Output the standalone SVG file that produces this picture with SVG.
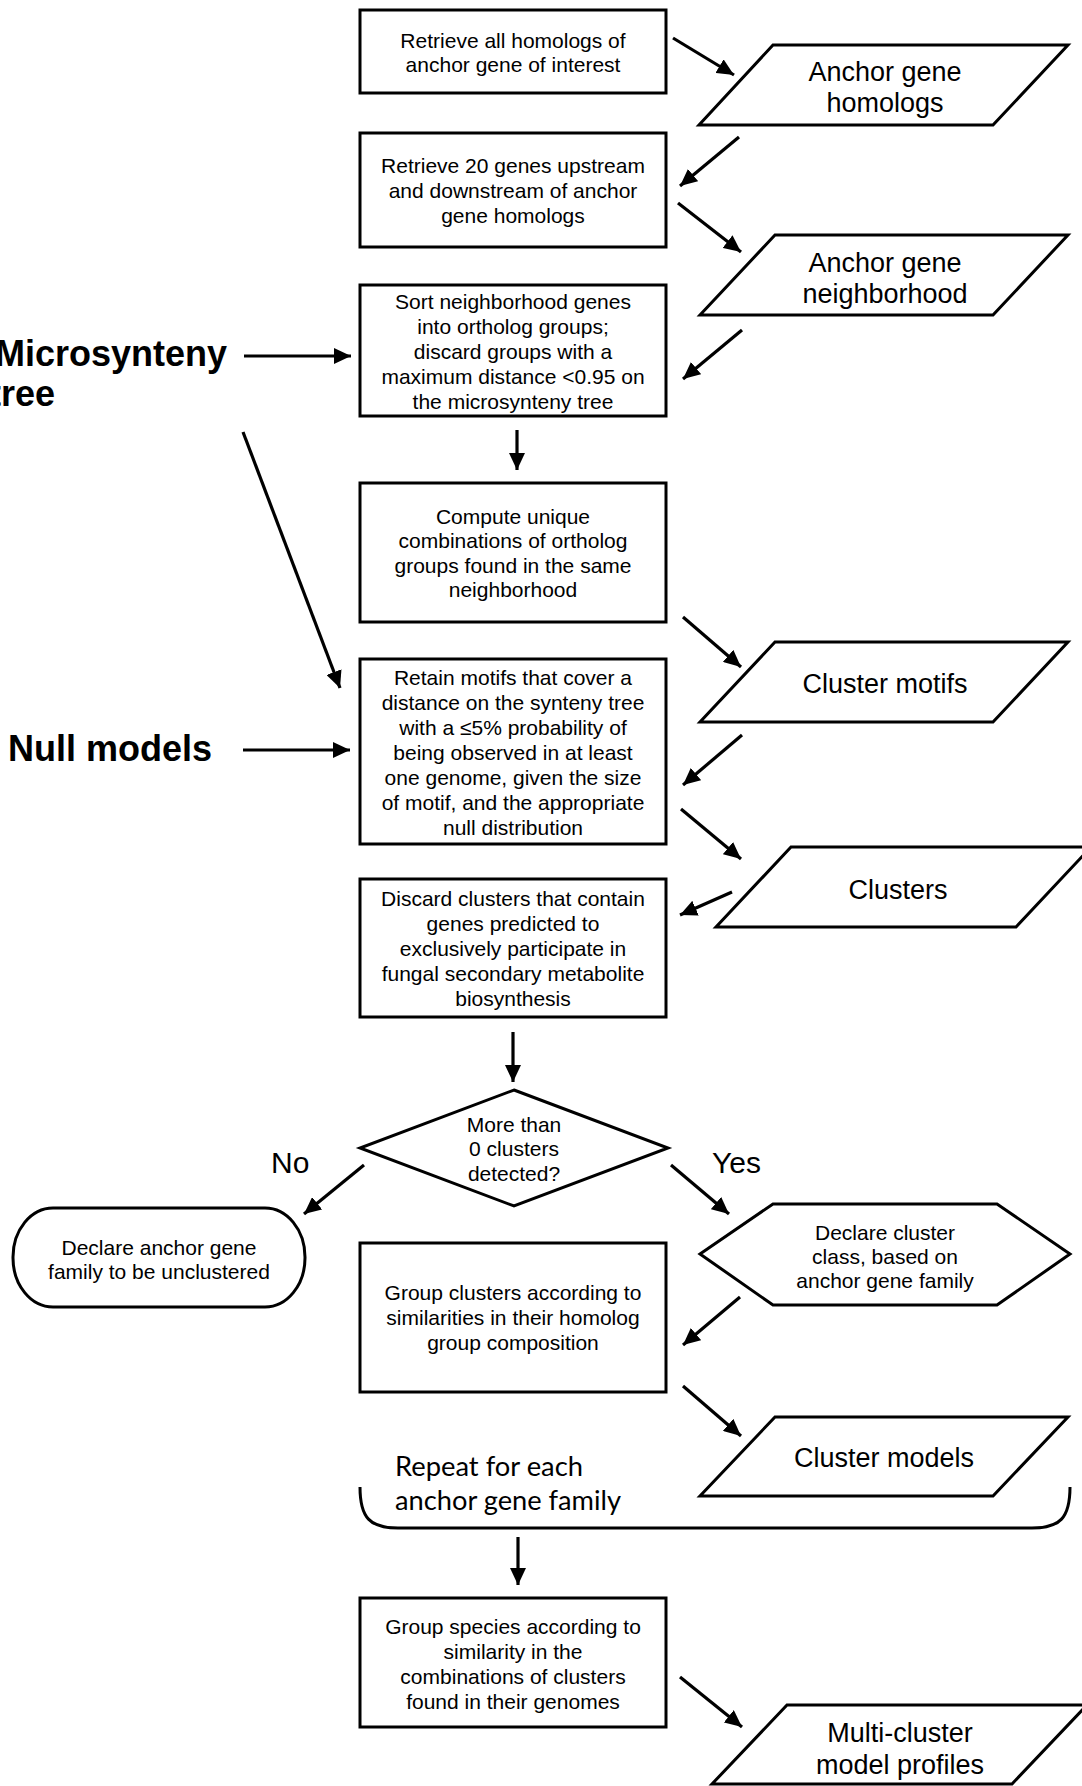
<svg xmlns="http://www.w3.org/2000/svg" width="1082" height="1786" viewBox="0 0 1082 1786">
<defs>
<style>
.shape{fill:#fff;stroke:#000;stroke-width:3;stroke-linejoin:miter}
.t{font-family:"Liberation Sans",Arial,sans-serif;font-size:21px;fill:#000;text-anchor:middle}
.tl{font-family:"Liberation Sans",Arial,sans-serif;font-size:27px;fill:#000;text-anchor:middle}
.tb{font-family:"Liberation Sans",Arial,sans-serif;font-size:36px;font-weight:bold;fill:#000}
.ty{font-family:"Liberation Sans",Arial,sans-serif;font-size:30px;fill:#000}
.tc{font-family:Lato,"Open Sans",sans-serif;font-size:27px;fill:#000}
.c line{stroke:#000;stroke-width:3.2;marker-end:url(#ah)}
</style>
<marker id="ah" markerUnits="userSpaceOnUse" markerWidth="17" markerHeight="16" refX="17" refY="8" orient="auto">
<path d="M0,0 L17,8 L0,16 z" fill="#000"/>
</marker>
</defs>
<rect width="1082" height="1786" fill="#fff"/>

<g id="b1"><rect class="shape" x="360" y="10" width="306" height="83"/>
<text class="t" x="513" y="48">Retrieve all homologs of</text>
<text class="t" x="513" y="72">anchor gene of interest</text></g>

<g id="p1"><polygon class="shape" points="773,45 1068,45 993,125 699,125"/>
<text class="tl" x="885" y="81">Anchor gene</text>
<text class="tl" x="885" y="112">homologs</text></g>

<g id="b2"><rect class="shape" x="360" y="133" width="306" height="114"/>
<text class="t" x="513" y="173">Retrieve 20 genes upstream</text>
<text class="t" x="513" y="198">and downstream of anchor</text>
<text class="t" x="513" y="223">gene homologs</text></g>

<g id="p2"><polygon class="shape" points="775,235 1068,235 993,315 700,315"/>
<text class="tl" x="885" y="272">Anchor gene</text>
<text class="tl" x="885" y="303">neighborhood</text></g>

<g id="b3"><rect class="shape" x="360" y="285" width="306" height="131"/>
<text class="t" x="513" y="309">Sort neighborhood genes</text>
<text class="t" x="513" y="334">into ortholog groups;</text>
<text class="t" x="513" y="359">discard groups with a</text>
<text class="t" x="513" y="384">maximum distance &lt;0.95 on</text>
<text class="t" x="513" y="409">the microsynteny tree</text></g>

<g id="microsynteny"><text class="tb" x="227" y="366" text-anchor="end">Microsynteny</text>
<text class="tb" x="-11" y="406">tree</text></g>

<g id="b4"><rect class="shape" x="360" y="483" width="306" height="139"/>
<text class="t" x="513" y="524">Compute unique</text>
<text class="t" x="513" y="548">combinations of ortholog</text>
<text class="t" x="513" y="573">groups found in the same</text>
<text class="t" x="513" y="597">neighborhood</text></g>

<g id="p3"><polygon class="shape" points="775,642 1068,642 993,722 700,722"/>
<text class="tl" x="885" y="693">Cluster motifs</text></g>

<g id="b5"><rect class="shape" x="360" y="659" width="306" height="185"/>
<text class="t" x="513" y="685">Retain motifs that cover a</text>
<text class="t" x="513" y="710">distance on the synteny tree</text>
<text class="t" x="513" y="735">with a ≤5% probability of</text>
<text class="t" x="513" y="760">being observed in at least</text>
<text class="t" x="513" y="785">one genome, given the size</text>
<text class="t" x="513" y="810">of motif, and the appropriate</text>
<text class="t" x="513" y="835">null distribution</text></g>

<g id="nullmodels"><text class="tb" x="8" y="761">Null models</text></g>

<g id="p4"><polygon class="shape" points="791,847 1091,847 1016,927 716,927"/>
<text class="tl" x="898" y="899">Clusters</text></g>

<g id="b6"><rect class="shape" x="360" y="879" width="306" height="138"/>
<text class="t" x="513" y="906">Discard clusters that contain</text>
<text class="t" x="513" y="931">genes predicted to</text>
<text class="t" x="513" y="956">exclusively participate in</text>
<text class="t" x="513" y="981">fungal secondary metabolite</text>
<text class="t" x="513" y="1006">biosynthesis</text></g>

<g id="d1"><polygon class="shape" points="514,1090 668,1148 514,1206 360,1148"/>
<text class="t" x="514" y="1132">More than</text>
<text class="t" x="514" y="1156">0 clusters</text>
<text class="t" x="514" y="1181">detected?</text></g>

<g id="lbl-no"><text class="ty" x="271" y="1173">No</text></g>
<g id="lbl-yes"><text class="ty" x="712" y="1173">Yes</text></g>

<g id="term"><rect class="shape" x="13" y="1208" width="292" height="99" rx="40" ry="49"/>
<text class="t" x="159" y="1255">Declare anchor gene</text>
<text class="t" x="159" y="1279">family to be unclustered</text></g>

<g id="hex"><polygon class="shape" points="700,1254 773,1204 997,1204 1070,1254 997,1305 773,1305"/>
<text class="t" x="885" y="1240">Declare cluster</text>
<text class="t" x="885" y="1264">class, based on</text>
<text class="t" x="885" y="1288">anchor gene family</text></g>

<g id="b7"><rect class="shape" x="360" y="1243" width="306" height="149"/>
<text class="t" x="513" y="1300">Group clusters according to</text>
<text class="t" x="513" y="1325">similarities in their homolog</text>
<text class="t" x="513" y="1350">group composition</text></g>

<g id="p5"><polygon class="shape" points="775,1417 1068,1417 993,1496 700,1496"/>
<text class="tl" x="884" y="1467">Cluster models</text></g>

<g id="repeat"><path d="M360,1487 C360,1518 370,1528 398,1528 L1032,1528 C1060,1528 1070,1518 1070,1487" fill="none" stroke="#000" stroke-width="3"/>
<text class="tc" x="395" y="1476" textLength="188" lengthAdjust="spacingAndGlyphs">Repeat for each</text>
<text class="tc" x="395" y="1510" textLength="226" lengthAdjust="spacingAndGlyphs">anchor gene family</text></g>

<g id="b8"><rect class="shape" x="360" y="1598" width="306" height="129"/>
<text class="t" x="513" y="1634">Group species according to</text>
<text class="t" x="513" y="1659">similarity in the</text>
<text class="t" x="513" y="1684">combinations of clusters</text>
<text class="t" x="513" y="1709">found in their genomes</text></g>

<g id="p6"><polygon class="shape" points="787,1705 1087,1705 1012,1784 712,1784"/>
<text class="tl" x="900" y="1742">Multi-cluster</text>
<text class="tl" x="900" y="1774">model profiles</text></g>

<g id="connectors" class="c">
<line x1="673" y1="38" x2="734" y2="75"/>
<line x1="739" y1="137" x2="680" y2="186"/>
<line x1="678" y1="203" x2="741" y2="252"/>
<line x1="742" y1="330" x2="683" y2="379"/>
<line x1="244" y1="356" x2="351" y2="356"/>
<line x1="243" y1="432" x2="340" y2="688"/>
<line x1="517" y1="430" x2="517" y2="470"/>
<line x1="683" y1="617" x2="741" y2="667"/>
<line x1="742" y1="735" x2="683" y2="785"/>
<line x1="243" y1="750" x2="350" y2="750"/>
<line x1="681" y1="809" x2="741" y2="859"/>
<line x1="732" y1="892" x2="680" y2="915"/>
<line x1="513" y1="1032" x2="513" y2="1082"/>
<line x1="364" y1="1165" x2="304" y2="1214"/>
<line x1="671" y1="1165" x2="729" y2="1214"/>
<line x1="740" y1="1297" x2="683" y2="1345"/>
<line x1="683" y1="1386" x2="741" y2="1436"/>
<line x1="518" y1="1537" x2="518" y2="1585"/>
<line x1="680" y1="1677" x2="742" y2="1727"/>
</g>
</svg>
